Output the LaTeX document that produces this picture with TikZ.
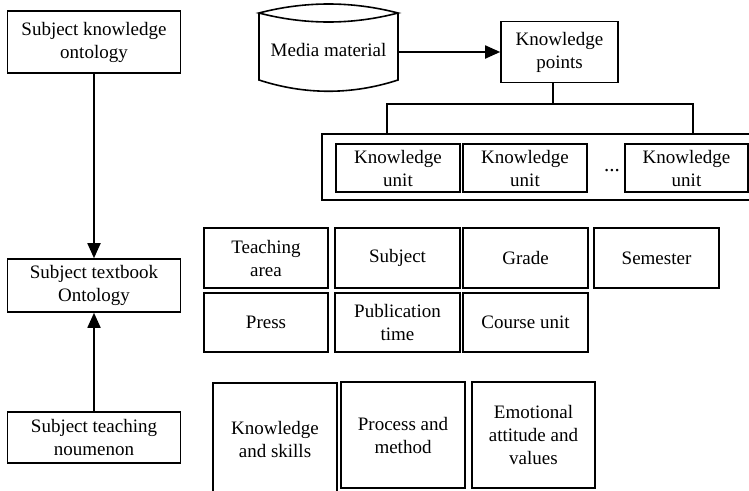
\documentclass[tikz,border=0pt]{standalone}
\usepackage{fontspec}
\setmainfont{Liberation Serif}
\usetikzlibrary{arrows.meta,calc}
\tikzset{
  box/.style={draw, line width=1.6pt, rectangle, inner sep=0pt, align=center, font=\fontsize{19}{23}\selectfont},
  plain/.style={inner sep=0pt, align=center, font=\fontsize{19}{23}\selectfont},
  arr/.style={line width=1.8pt, -{Triangle[length=15pt,width=13pt]}},
  ln/.style={line width=1.6pt}
}
\begin{document}
\begin{tikzpicture}[x=1pt,y=-1pt]
\useasboundingbox (0,0) rectangle (749,490);
\clip (0,0) rectangle (749,490);
% left column
\node[box, minimum width=173pt, minimum height=62pt] (sko) at (94,42) {Subject knowledge\\ontology};
\node[box, minimum width=173pt, minimum height=53pt] (sto) at (94,285.5) {Subject textbook\\Ontology};
\node[box, minimum width=173pt, minimum height=51pt] (stn) at (94,437.5) {Subject teaching\\noumenon};
\draw[arr] (sko.south) -- (sto.north);
\draw[arr] (stn.north) -- (sto.south);
% media cylinder
\draw[ln] (259,13) .. controls (305,1) and (352,1) .. (398,13)
          .. controls (352,25) and (305,25) .. (259,13) -- cycle;
\draw[ln] (259,13) -- (259,80) .. controls (305,95) and (352,95) .. (398,80) -- (398,13);
\node[plain, minimum width=139pt, minimum height=74pt] (media) at (328.5,50) {Media material};
% knowledge points
\node[box, minimum width=117pt, minimum height=61pt] (kp) at (559.5,52) {Knowledge\\points};
\draw[arr] (media.east |- kp.west) -- (kp.west);
% group of units
\node[box, minimum width=438pt, minimum height=66pt] (grp) at (541,167) {};
\coordinate (tc) at (553,104);
\coordinate (tl) at (387,104);
\coordinate (tr) at (693,104);
\draw[ln] (kp.south -| tc) -- (tc);
\draw[ln] (tl |- grp.north) -- (tl) -- (tr) -- (tr |- grp.north);
\node[box, minimum width=124pt, minimum height=48pt] (ku1) at (398,168) {Knowledge\\unit};
\node[box, minimum width=124pt, minimum height=48pt] (ku2) at (525,168) {Knowledge\\unit};
\node[plain, font=\fontsize{21}{23}\selectfont] (dots) at (612,171) {...};
\node[box, minimum width=123pt, minimum height=48pt] (ku3) at (686.5,168) {Knowledge\\unit};
% attribute grid
\node[box, minimum width=124pt, minimum height=60pt] (ta) at (266,258) {Teaching\\area};
\node[box, minimum width=125pt, minimum height=60pt] (sub) at (397.5,258) {Subject};
\node[box, minimum width=125pt, minimum height=60pt] (gr) at (525.5,258) {Grade};
\node[box, minimum width=125pt, minimum height=60pt] (sem) at (656.5,258) {Semester};
\node[box, minimum width=124pt, minimum height=59pt] (pr) at (266,322.5) {Press};
\node[box, minimum width=125pt, minimum height=59pt] (pt) at (397.5,322.5) {Publication\\time};
\node[box, minimum width=125pt, minimum height=59pt] (cu) at (525.5,322.5) {Course unit};
% goals
\node[box, minimum width=124pt, minimum height=112pt] (ks) at (275,439) {Knowledge\\and skills};
\node[box, minimum width=124pt, minimum height=106pt] (pm) at (403,435) {Process and\\method};
\node[box, minimum width=123pt, minimum height=106pt] (em) at (533.5,435) {Emotional\\attitude and\\values};
\end{tikzpicture}
\end{document}
